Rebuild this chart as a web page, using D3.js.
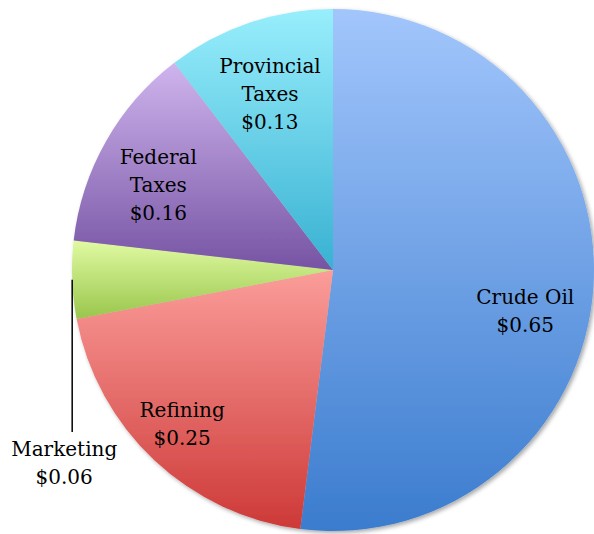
<!DOCTYPE html>
<html>
<head>
<meta charset="utf-8">
<script src="https://d3js.org/d3.v7.min.js"></script>
<style>
  body { margin: 0; background: white; }
  .lbl { font-family: "DejaVu Serif", serif; font-size: 20px; fill: #000; }
</style>
</head>
<body>
<svg id="pie" width="594" height="534"></svg>
<script>
// slice order starts at 12 o'clock, clockwise
const categories = ["Crude Oil", "Refining", "Marketing", "Federal Taxes", "Provincial Taxes"];
const values = [0.65, 0.25, 0.06, 0.16, 0.13];
const labelLines = [["Crude Oil"], ["Refining"], ["Marketing"], ["Federal", "Taxes"], ["Provincial", "Taxes"]];
const topColors = ["#a2c6fc", "#fb9d9a", "#e0faa2", "#cfb5ee", "#98eefc"];
const bottomColors = ["#3b7cce", "#cd3937", "#99c64c", "#7653a3", "#38b1d2"];

// label placement (fraction of radius, angle nudge in degrees), like Excel "best fit"
const labelRadius = [0.753, 0.826, 1.0, 0.745, 0.716];
const labelNudge = [8.4, 1.2, 0, -3.5, -1];

const svg = d3.select("#pie");
const cx = 333, cy = 270, radius = 261;

const defs = svg.append("defs");
const shadow = defs.append("filter").attr("id", "shadow")
  .attr("x", "-10%").attr("y", "-10%").attr("width", "120%").attr("height", "120%");
shadow.append("feDropShadow")
  .attr("dx", 2).attr("dy", 2).attr("stdDeviation", 2)
  .attr("flood-color", "#000").attr("flood-opacity", 0.35);

categories.forEach((c, i) => {
  const g = defs.append("linearGradient").attr("id", "grad" + i)
    .attr("x1", 0).attr("y1", 0).attr("x2", 0).attr("y2", 1);
  g.append("stop").attr("offset", "0%").attr("stop-color", topColors[i]);
  g.append("stop").attr("offset", "100%").attr("stop-color", bottomColors[i]);
});

const data = categories.map((c, i) => ({name: c, value: values[i], i: i}));

const pie = d3.pie().value(d => d.value).sort(null);
const arc = d3.arc().innerRadius(0).outerRadius(radius);

const chart = svg.append("g").attr("transform", `translate(${cx},${cy})`);
const arcs = pie(data);

chart.append("g").attr("filter", "url(#shadow)")
  .selectAll("path").data(arcs)
  .join("path")
  .attr("d", arc)
  .attr("fill", d => `url(#grad${d.data.i})`);

const fmt = d3.format("$.2f");
const lineH = 28;

arcs.forEach(d => {
  const i = d.data.i;
  const mid = (d.startAngle + d.endAngle) / 2;
  const ls = labelLines[i].concat([fmt(d.data.value)]);
  const t = chart.append("text").attr("class", "lbl").attr("text-anchor", "middle");

  if (d.data.name === "Marketing") {
    // outside label with a vertical leader line
    const ex = radius * Math.sin(mid), ey = -radius * Math.cos(mid);
    const endY = 432 - cy;
    chart.append("line")
      .attr("x1", ex).attr("y1", ey).attr("x2", ex).attr("y2", endY)
      .attr("stroke", "#000").attr("stroke-width", 1.5);
    ls.forEach((s, k) => {
      t.append("tspan").attr("x", ex - 8).attr("y", endY + 24 + k * lineH).text(s);
    });
    return;
  }

  const a = mid + labelNudge[i] * Math.PI / 180;
  const r = radius * labelRadius[i];
  const x = r * Math.sin(a), y = -r * Math.cos(a);
  ls.forEach((s, k) => {
    t.append("tspan").attr("x", x)
      .attr("y", y + (k - (ls.length - 1) / 2) * lineH)
      .attr("dy", "0.35em").text(s);
  });
});
</script>
</body>
</html>
